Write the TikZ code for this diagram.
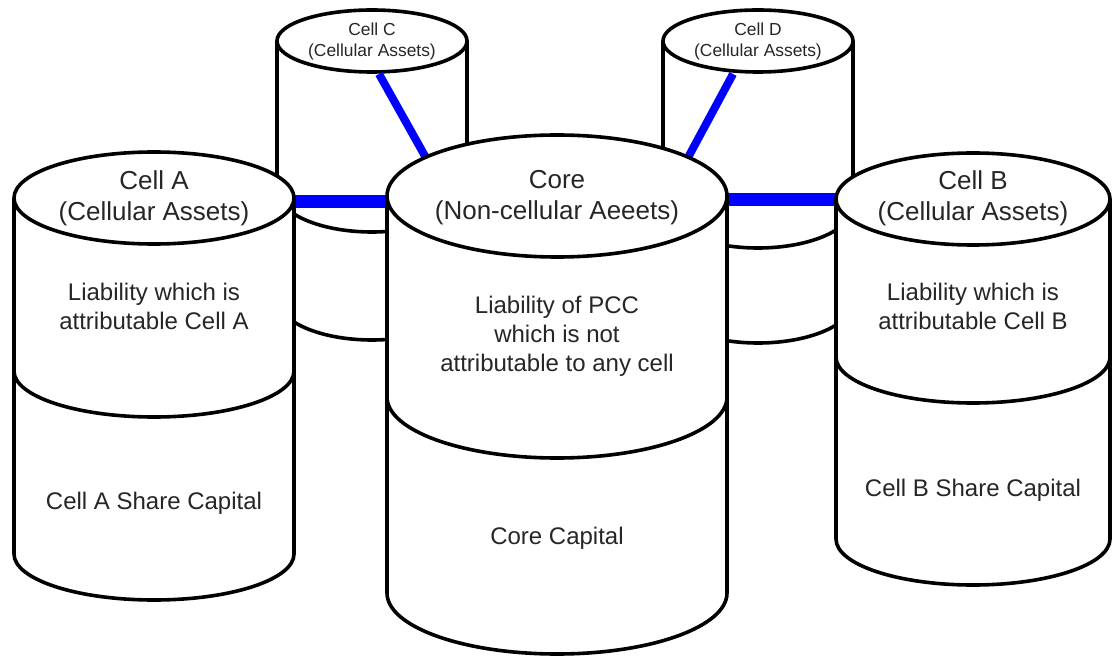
\documentclass[tikz,border=0pt]{standalone}
\usepackage{fontspec}
\setmainfont{Liberation Sans}
\tikzset{
  outline/.style={line width=1.8pt, draw=black},
  conn/.style={line width=6.5pt, blue},
  diag/.style={line width=4pt, blue},
  ttl/.style={align=center, text=black!85, font=\fontsize{13}{15.5}\selectfont, inner sep=0pt},
  lbl/.style={align=center, text=black!85, font=\fontsize{12}{14.5}\selectfont, inner sep=0pt},
  smallttl/.style={align=center, text=black!85, font=\fontsize{8.7}{10.5}\selectfont, inner sep=0pt},
}
% #1 cx, #2 rx, #3 ry top, #4 y top, #5 y divider, #6 y bottom, #7 ry of lower arcs (pixels, y down)
\newcommand\drawcyl[7]{%
  \fill[white] (#1-#2,-#4) -- (#1-#2,-#6) arc[start angle=180,end angle=360,x radius=#2,y radius=#7]
     -- (#1+#2,-#4) arc[start angle=0,end angle=180,x radius=#2,y radius=#3] -- cycle;
  \draw[outline] (#1-#2,-#4) -- (#1-#2,-#6) arc[start angle=180,end angle=360,x radius=#2,y radius=#7] -- (#1+#2,-#4);
  \draw[outline] (#1-#2,-#5) arc[start angle=180,end angle=360,x radius=#2,y radius=#7];
  \draw[outline,fill=white] (#1,-#4) ellipse[x radius=#2,y radius=#3];
}
\begin{document}
\begin{tikzpicture}[x=0.5pt,y=0.5pt]
\useasboundingbox (0,0) rectangle (1112,-657);
\fill[white] (0,0) rectangle (1112,-657);

% back cylinders
\drawcyl{372}{95}{31}{41}{190}{298}{42}
\drawcyl{758}{95}{31}{41}{206}{301}{42}

% connector end points
\coordinate (C-s) at (379,-74);
\coordinate (D-s) at (733,-74);
\coordinate (Core-nw) at (430,-165);
\coordinate (Core-ne) at (684,-165);
\coordinate (A-e) at (290,-202);
\coordinate (Core-w) at (392,-202);
\coordinate (Core-e) at (722,-200);
\coordinate (B-w) at (841,-200);

\draw[diag] (C-s) -- (Core-nw);
\draw[diag] (D-s) -- (Core-ne);
\draw[conn] (A-e) -- (Core-w);
\draw[conn] (Core-e) -- (B-w);

% front cylinders
\drawcyl{154}{140}{46}{198}{371}{554}{46}
\drawcyl{973}{137}{46}{199}{357}{539}{46}
\drawcyl{557}{170}{61}{196}{397}{593}{61}

% texts
\node[smallttl] (Cttl) at (372,-42) {Cell C\\(Cellular Assets)};
\node[smallttl] (Dttl) at (758,-42) {Cell D\\(Cellular Assets)};

\node[ttl] (Attl) at (154,-198) {Cell A\\(Cellular Assets)};
\node[lbl] (Aliab) at (154,-306) {Liability which is\\attributable Cell A};
\node[lbl] (Acap) at (154,-503) {Cell A Share Capital};

\node[ttl] (Corettl) at (557,-198) {Core\\(Non-cellular Aeeets)};
\node[lbl] (Coreliab) at (557,-336) {Liability of PCC\\which is not\\attributable to any cell};
\node[lbl] (Corecap) at (557,-538) {Core Capital};

\node[ttl] (Bttl) at (973,-198) {Cell B\\(Cellular Assets)};
\node[lbl] (Bliab) at (973,-306) {Liability which is\\attributable Cell B};
\node[lbl] (Bcap) at (973,-490) {Cell B Share Capital};
\end{tikzpicture}
\end{document}
